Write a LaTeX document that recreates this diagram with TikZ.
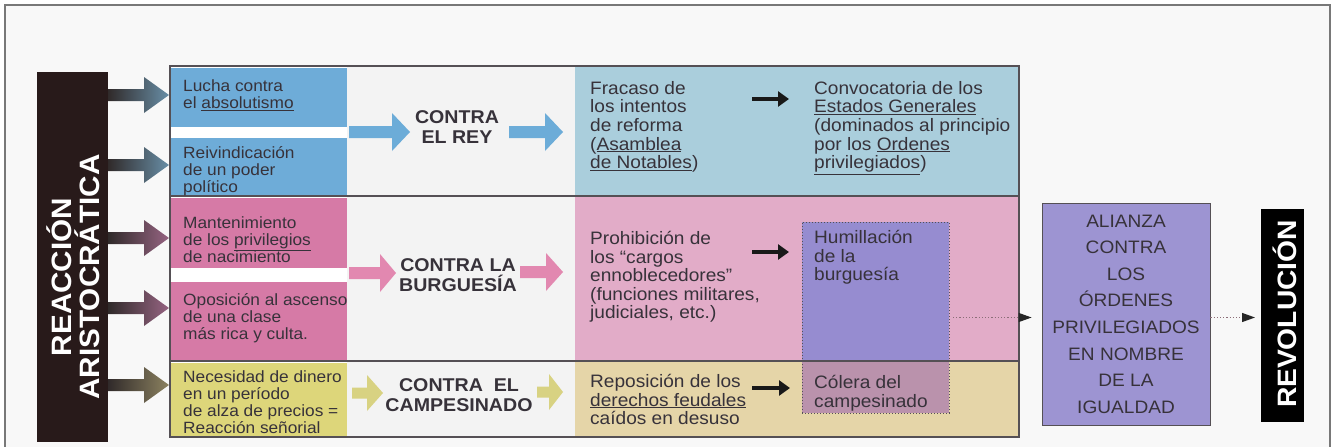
\documentclass[tikz,border=0pt]{standalone}
\usepackage{fontspec}
\setmainfont{Liberation Sans}[FakeStretch=1.06]
\usetikzlibrary{arrows.meta,fit,calc}

\definecolor{pagebg}{RGB}{248,248,248}
\definecolor{framegray}{RGB}{120,120,120}
\definecolor{linegray}{RGB}{85,80,85}
\definecolor{tgray}{RGB}{55,50,58}
\definecolor{barc}{RGB}{40,26,26}
\definecolor{blueA}{RGB}{110,172,216}
\definecolor{blueB}{RGB}{170,206,220}
\definecolor{pinkA}{RGB}{214,122,166}
\definecolor{pinkB}{RGB}{226,172,200}
\definecolor{yelA}{RGB}{221,214,122}
\definecolor{yelB}{RGB}{229,213,168}
\definecolor{colwhite}{RGB}{243,243,243}
\definecolor{purpA}{RGB}{150,140,208}
\definecolor{mauve}{RGB}{186,146,172}
\definecolor{aliC}{RGB}{157,148,210}
\definecolor{arrdark}{RGB}{48,42,42}
\definecolor{arrblue}{RGB}{104,142,166}
\definecolor{arrpink}{RGB}{150,100,130}
\definecolor{arryel}{RGB}{140,130,96}
\definecolor{cblue}{RGB}{108,172,216}
\definecolor{cpink}{RGB}{226,136,176}
\definecolor{cyel}{RGB}{216,210,130}
\definecolor{dotc}{RGB}{140,110,120}

\newcommand\blockarrow[6]{%
  \path[#1] let \p1=(#2), \p2=(#3) in
    (\x1,\y1-#6) -- (\x2-#4,\y1-#6) -- (\x2-#4,\y1-#5) -- (\x2,\y1)
    -- (\x2-#4,\y1+#5) -- (\x2-#4,\y1+#6) -- (\x1,\y1+#6) -- cycle;}

\begin{document}
\begin{tikzpicture}[x=1pt,y=-1pt,
  txt/.style={anchor=north west, align=left, inner sep=0pt, text=tgray,
    font=\fontsize{16.3}{17.3}\selectfont},
  txtb/.style={anchor=north west, align=left, inner sep=0pt, text=tgray,
    font=\fontsize{18}{18.6}\selectfont},
  hd/.style={align=center, inner sep=0pt, text=tgray,
    font=\bfseries\fontsize{18.5}{20}\selectfont},
  area/.style={inner sep=0pt, outer sep=0pt, draw=none},
  blk/.style={line width=3.5pt, draw=black!90, -{Triangle[length=11pt,width=15pt]}},
  dotarr/.style={dotted, line width=1.2pt, draw=dotc, -{Triangle[length=13pt,width=9pt,color=black!85]}}
]
\useasboundingbox (0,0) rectangle (1336,447);
\fill[white] (0,0) rectangle (1336,447);
\fill[pagebg] (5,5) rectangle (1330,447);
\draw[framegray, line width=2.5pt] (5,447) -- (5,5) -- (1330,5) -- (1330,447);

% left bar
\node[area, fill=barc, fit={(37,72) (108,442)}] (bar) {};
\node[rotate=90, align=center, text=white, inner sep=0pt,
  font=\bfseries\fontsize{28}{28}\selectfont] (bartxt) at (73,277) {REACCIÓN\\ARISTOCRÁTICA};

% column fills
\node[area, fill=white, fit={(170,67) (347,437)}] (col1) {};
\node[area, fill=colwhite, fit={(347,67) (575,437)}] (col2) {};
\node[area, fill=blueB, fit={(575,67) (1019,196)}] (r1) {};
\node[area, fill=pinkB, fit={(575,196) (1019,361)}] (r2) {};
\node[area, fill=yelB, fit={(575,361) (1019,437)}] (r3) {};

% left boxes
\node[area, fill=blueA, fit={(170,68) (347,127)}] (a) {};
\node[area, fill=blueA, fit={(170,138) (347,196)}] (b) {};
\node[area, fill=pinkA, fit={(170,198) (347,268)}] (c) {};
\node[area, fill=pinkA, fit={(170,282) (347,361)}] (d) {};
\node[area, fill=yelA, fit={(170,363) (347,437)}] (e) {};

% purple overlay
\fill[purpA] (802,222) rectangle (949,361);
\fill[mauve] (802,361) rectangle (949,413);
\node[area, draw=linegray, dotted, line width=1pt, fit={(802,222) (949,413)}] (hum) {};

% frame lines
\draw[linegray, line width=1.6pt] (170,437) -- (170,66) -- (1019,66) -- (1019,437) -- cycle;
\draw[linegray, line width=1.6pt] (170,196) -- (1019,196);
\draw[linegray, line width=1.6pt] (170,361) -- (1019,361);

% left texts
\node[txt] (ta) at (183,79) {Lucha contra\\el \underline{absolutismo}};
\node[txt] (tb) at (183,146) {Reivindicación\\de un poder\\político};
\node[txt] (tc) at (183,216) {Mantenimiento\\de los \underline{privilegios}\\de nacimiento};
\node[txt] (td) at (183,293) {Oposición al ascenso\\de una clase\\más rica y culta.};
\node[txt] (te) at (183,370) {Necesidad de dinero\\en un período\\de alza de precios =\\Reacción señorial};

% headings
\node[hd] (h1) at (457,127) {CONTRA\\EL REY};
\node[hd] (h2) at (458,275) {CONTRA LA\\BURGUESÍA};
\node[hd] (h3) at (459,395) {CONTRA \ EL\\CAMPESINADO};

% right texts
\node[txtb] (f1) at (590,81) {Fracaso de\\los intentos\\de reforma\\(\underline{Asamblea}\\\underline{de Notables})};
\node[txtb] (g1) at (814,81) {Convocatoria de los\\\underline{Estados Generales}\\(dominados al principio\\por los \underline{Ordenes}\\\underline{privilegiados})};
\node[txtb] (f2) at (590,231) {Prohibición de\\los “cargos\\ennoblecedores”\\(funciones militares,\\judiciales, etc.)};
\node[txtb] (f3) at (590,374) {Reposición de los\\\underline{derechos feudales}\\caídos en desuso};
\node[txtb] (g2) at (814,230) {Humillación\\de la\\burguesía};
\node[txtb] (g3) at (814,375) {Cólera del\\campesinado};

% alliance and revolution
\node[draw=linegray, line width=0.8pt, fill=aliC, minimum width=168pt, minimum height=222pt,
  align=center, text=tgray, font=\fontsize{18}{26.6}\selectfont] (ali) at (1126,314)
  {ALIANZA\\CONTRA\\LOS\\ÓRDENES\\PRIVILEGIADOS\\EN NOMBRE\\DE LA\\IGUALDAD};
\node[area, fill=black, fit={(1261,209) (1304,422)}] (rev) {};
\node[rotate=90, anchor=base, inner sep=0pt, text=white,
  font=\bfseries\fontsize{26.6}{27}\selectfont] (revtxt) at (1296,314) {REVOLUCIÓN};

% arrows from the bar
\coordinate (s1) at (108,95);  \coordinate (e1) at (169,95);
\coordinate (s2) at (108,165); \coordinate (e2) at (169,165);
\coordinate (s3) at (108,238); \coordinate (e3) at (169,238);
\coordinate (s4) at (108,308); \coordinate (e4) at (169,308);
\coordinate (s5) at (108,385); \coordinate (e5) at (169,385);
\blockarrow{shade, left color=arrdark, right color=arrblue}{s1}{e1}{25pt}{18pt}{6pt}
\blockarrow{shade, left color=arrdark, right color=arrblue}{s2}{e2}{25pt}{18pt}{6pt}
\blockarrow{shade, left color=arrdark, right color=arrpink}{s3}{e3}{25pt}{18pt}{6pt}
\blockarrow{shade, left color=arrdark, right color=arrpink}{s4}{e4}{25pt}{18pt}{6pt}
\blockarrow{shade, left color=arrdark, right color=arryel}{s5}{e5}{25pt}{18pt}{6pt}

% coloured arrows in the middle column
\coordinate (m1a) at (349,132); \coordinate (m1b) at (410,132);
\coordinate (m1c) at (509,132); \coordinate (m1d) at (563,132);
\coordinate (m2a) at (349,273); \coordinate (m2b) at (396,273);
\coordinate (m2c) at (520,272); \coordinate (m2d) at (563,272);
\coordinate (m3a) at (352,393); \coordinate (m3b) at (383,393);
\coordinate (m3c) at (537,392); \coordinate (m3d) at (563,392);
\blockarrow{fill=cblue}{m1a}{m1b}{18pt}{19pt}{6pt}
\blockarrow{fill=cblue}{m1c}{m1d}{18pt}{19pt}{6pt}
\blockarrow{fill=cpink}{m2a}{m2b}{16pt}{19pt}{6pt}
\blockarrow{fill=cpink}{m2c}{m2d}{17pt}{19pt}{6pt}
\blockarrow{fill=cyel}{m3a}{m3b}{16pt}{18pt}{5.5pt}
\blockarrow{fill=cyel}{m3c}{m3d}{14pt}{18pt}{5.5pt}

% black arrows
\coordinate (k1a) at (752,99);  \coordinate (k1b) at (789,99);
\coordinate (k2a) at (752,252); \coordinate (k2b) at (789,252);
\coordinate (k3a) at (752,388); \coordinate (k3b) at (790,388);
\draw[blk] (k1a) -- (k1b);
\draw[blk] (k2a) -- (k2b);
\draw[blk] (k3a) -- (k3b);

% dotted arrows
\draw[dotarr, shorten <=4pt, shorten >=10pt] (hum.east) -- (hum.east -| ali.west);
\draw[dotarr, shorten >=6pt] (ali.east |- hum.east) -- (rev.west |- hum.east);
\end{tikzpicture}
\end{document}
